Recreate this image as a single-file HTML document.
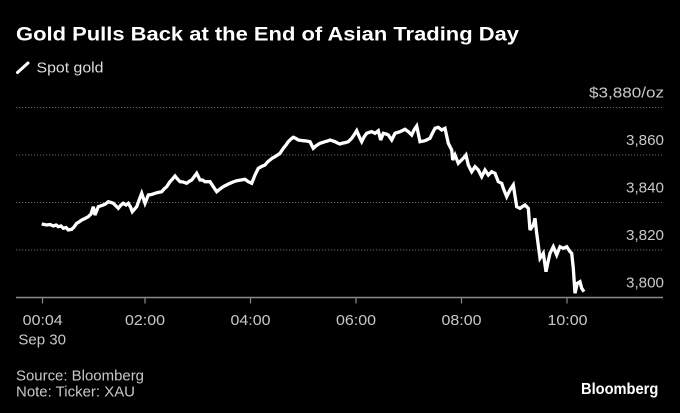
<!DOCTYPE html>
<html>
<head>
<meta charset="utf-8">
<style>
  html, body { margin: 0; padding: 0; background: #000; }
  body { width: 680px; height: 413px; overflow: hidden; }
  svg { display: block; }
  text { font-family: "Liberation Sans", "DejaVu Sans", sans-serif; }
</style>
</head>
<body>
<svg width="680" height="413" viewBox="0 0 680 413" xmlns="http://www.w3.org/2000/svg">
  <rect x="0" y="0" width="680" height="413" fill="#000"/>

  <!-- Title -->
  <text x="16" y="40.7" font-size="19.5" font-weight="bold" fill="#ffffff" textLength="503" lengthAdjust="spacingAndGlyphs">Gold Pulls Back at the End of Asian Trading Day</text>

  <!-- Legend -->
  <line x1="17.5" y1="72.5" x2="28" y2="63" stroke="#ffffff" stroke-width="3" stroke-linecap="round"/>
  <text x="36.5" y="72.5" font-size="15" fill="#dddddd" textLength="67" lengthAdjust="spacingAndGlyphs">Spot gold</text>

  <!-- Gridlines -->
  <g stroke="#6a6a6a" stroke-width="1" stroke-dasharray="1.2 1.8">
    <line x1="16" y1="107.5" x2="663" y2="107.5"/>
    <line x1="16" y1="155" x2="663" y2="155"/>
    <line x1="16" y1="202.5" x2="663" y2="202.5"/>
    <line x1="16" y1="250" x2="663" y2="250"/>
  </g>

  <!-- Y labels -->
  <g font-size="15" fill="#c8c8c8" text-anchor="end">
    <text x="664" y="97.5" textLength="75" lengthAdjust="spacingAndGlyphs">$3,880/oz</text>
    <text x="664" y="145" textLength="38" lengthAdjust="spacingAndGlyphs">3,860</text>
    <text x="664" y="192.5" textLength="38" lengthAdjust="spacingAndGlyphs">3,840</text>
    <text x="664" y="240" textLength="38" lengthAdjust="spacingAndGlyphs">3,820</text>
    <text x="664" y="287.5" textLength="38" lengthAdjust="spacingAndGlyphs">3,800</text>
  </g>

  <!-- Series -->
  <polyline fill="none" stroke="#ffffff" stroke-width="3.3" stroke-linejoin="miter" stroke-miterlimit="3"
    points="41.7,224 46.7,225 50,224.5 53.3,226 56,225 58.3,226.7 61,226 63.3,228.3 66,227.5 68.3,230 71.7,229.3 74,227 76.7,223.3 79,222 81.7,220 85,218.5 88.3,216.7 91,214 93.3,206.7 95,215 98.3,206.7 103.3,205 105.5,204 108.3,201.7 111,202.5 113.3,203.3 116,206 118.3,208.3 121,205 123.3,203.3 126,205 128.3,203.3 130.5,207 132.3,211.7 136.7,206.7 139.5,199 141.7,193.3 145,203.3 148.3,195 151.5,194.5 155,193.3 158,192.5 161.7,191.7 164,189 166.7,186.7 170,181.7 172.5,179 175,176 177.5,179 180,181.7 183,182 186.7,183.3 189,181.5 191.7,180 194,177 196.7,173.3 200,180 202.5,180 205,181.7 210,181.7 213.3,186.7 216.7,191.7 220,189 223.3,186.7 226.5,185 230,183.3 233,182 236.7,180.7 241,180 245,179.3 248.3,181.7 251.7,183.3 255,175 258.3,168.3 261.5,166.5 265,165 267.5,162 270,160 272.5,158 275,156.7 277.5,155 280,153.3 283.3,148.3 286,145 288.3,141.7 291,139 293.3,137.3 296,138.5 298.3,140 303.3,140.7 306.5,141 310,141.7 313.3,148.3 316.5,145.5 320,143.3 322.5,142.5 325,141.7 327.5,141 330,140 335,141.7 337.5,143 340,144 343,143 345,142.7 348.3,141.7 351.7,138.3 354,135 356.7,130.7 360,138.3 361.7,141.7 364,137 366.7,133.3 369,132.5 371.7,131.7 375,133.3 378.3,130.7 380.7,140 383.3,133.3 386,134 388.3,135 391.7,140 395,133.3 397.5,132.5 400,131.7 402.5,130.5 405,129.3 408.3,131.7 411.7,135 414,130 416.7,126 420,141.7 425,140.7 427.5,139.5 430,138.3 432.5,133 435,128.3 438.3,127.3 441.7,130 445,128.3 448.3,143.3 451.7,150 452.7,160 455,155 458.3,163.3 461,160.5 463.3,158.3 466,155 468.3,165 471.7,171.7 475,166.7 478.3,170 481.7,176.7 485,170 488.3,175 491.7,171.7 495,173.3 498.3,181.7 501.7,183.3 503.3,188.3 506.7,196.7 510,190 513.3,185 516.7,206.7 520,208.3 522.5,206.5 525,205 528.3,208.3 530,230 533.3,225 535,218.3 536.7,233.3 540,258.3 543.3,253.3 546,271.7 548,262 550,253.3 553.3,246.7 556.7,255 560,246.7 563.3,248.3 566.7,246.7 570,251.7 571.7,253.3 573.3,268.3 575,293.3 577.3,283.3 580,281.7 581.7,288.3 584,291.7"/>

  <!-- X axis -->
  <line x1="16" y1="297.5" x2="663" y2="297.5" stroke="#8a8a8a" stroke-width="1.5"/>
  <g stroke="#8a8a8a" stroke-width="1.2">
    <line x1="42.5" y1="297.5" x2="42.5" y2="303.5"/>
    <line x1="145" y1="297.5" x2="145" y2="303.5"/>
    <line x1="250.5" y1="297.5" x2="250.5" y2="303.5"/>
    <line x1="356" y1="297.5" x2="356" y2="303.5"/>
    <line x1="461.5" y1="297.5" x2="461.5" y2="303.5"/>
    <line x1="567" y1="297.5" x2="567" y2="303.5"/>
  </g>

  <!-- X labels -->
  <g font-size="15" fill="#c8c8c8" text-anchor="middle">
    <text x="42.7" y="325" textLength="40" lengthAdjust="spacingAndGlyphs">00:04</text>
    <text x="42.2" y="344.3" textLength="47.7" lengthAdjust="spacingAndGlyphs">Sep 30</text>
    <text x="145" y="325" textLength="40" lengthAdjust="spacingAndGlyphs">02:00</text>
    <text x="250.5" y="325" textLength="40" lengthAdjust="spacingAndGlyphs">04:00</text>
    <text x="356" y="325" textLength="40" lengthAdjust="spacingAndGlyphs">06:00</text>
    <text x="461.5" y="325" textLength="40" lengthAdjust="spacingAndGlyphs">08:00</text>
    <text x="567.5" y="325" textLength="40" lengthAdjust="spacingAndGlyphs">10:00</text>
  </g>

  <!-- Footer -->
  <g font-size="15" fill="#c8c8c8">
    <text x="16" y="380.7" textLength="128" lengthAdjust="spacingAndGlyphs">Source: Bloomberg</text>
    <text x="16" y="396.7" textLength="119" lengthAdjust="spacingAndGlyphs">Note: Ticker: XAU</text>
  </g>
  <text x="581" y="394" font-size="16" font-weight="bold" fill="#ffffff" textLength="77.3" lengthAdjust="spacingAndGlyphs">Bloomberg</text>
</svg>
</body>
</html>
